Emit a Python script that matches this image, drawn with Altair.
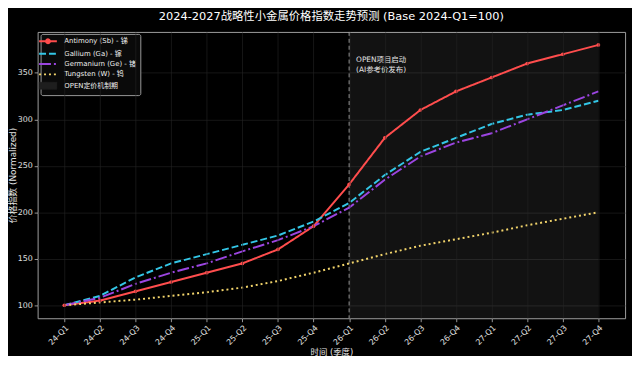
import altair as alt
import pandas as pd

quarters = ["24-Q1", "24-Q2", "24-Q3", "24-Q4", "25-Q1", "25-Q2", "25-Q3", "25-Q4",
            "26-Q1", "26-Q2", "26-Q3", "26-Q4", "27-Q1", "27-Q2", "27-Q3", "27-Q4"]
antimony = [100, 105, 115, 125, 135, 145, 160, 185, 230, 280, 310, 330, 345, 360, 370, 380]
gallium = [100, 110, 130, 145, 155, 165, 175, 190, 210, 240, 265, 280, 295, 305, 310, 320]
germanium = [100, 108, 123, 135, 145, 158, 170, 185, 205, 235, 260, 275, 285, 300, 315, 330]
tungsten = [100, 103, 106, 110, 114, 119, 126, 135, 145, 155, 164, 171, 178, 186, 193, 200]
series_names = ["Antimony (Sb) - 锑", "Gallium (Ga) - 镓", "Germanium (Ge) - 锗", "Tungsten (W) - 钨"]
span_label = "OPEN定价机制期"
span_start = "26-Q1"
span_end = "27-Q4"
note_lines = ["OPEN项目启动", "(AI参考价发布)"]
y_ticks = [100, 150, 200, 250, 300, 350]
title_text = "2024-2027战略性小金属价格指数走势预测 (Base 2024-Q1=100)"

colors = ["#ff4d4d", "#33c6e6", "#9b45e0", "#f2d46b", "#222222"]
dashes = [[1, 0], [7, 3], [12, 3, 2, 3], [2, 3], [1, 0]]
domain_all = series_names + [span_label]

rows = []
for name, vals in zip(series_names, [antimony, gallium, germanium, tungsten]):
    for i, (q, v) in enumerate(zip(quarters, vals)):
        rows.append({"quarter": q, "idx": i, "value": v, "series": name})
df = pd.DataFrame(rows)

FONT = "DejaVu Sans, Noto Sans CJK SC, sans-serif"

xscale = alt.Scale(domain=quarters, type="point", padding=0.75)
yscale = alt.Scale(domain=[86, 394], nice=False, zero=False)

xaxis = alt.Axis(title="时间 (季度)", labelAngle=-45, labelAlign="right", labelBaseline="top",
                 labelPadding=2, labelFontSize=8, titleFontSize=8.5, titleY=34,
                 titleBaseline="middle", grid=True)
yaxis = alt.Axis(title="价格指数 (Normalized)", values=y_ticks, labelFontSize=8, titleFontSize=9,
                 titleX=-25, titleY=145, titleAngle=-90, titleBaseline="middle",
                 titleAlign="center", labelPadding=2, grid=True)

is_span = "datum.value === '" + span_label + "'"
is_sb = "datum.value === '" + series_names[0] + "'"
legend = alt.Legend(
    title=None, orient="none", legendX=3, legendY=2,
    symbolType=alt.ExprRef(is_span + " ? 'M-1,-0.4H1V0.4H-1Z' : (" + is_sb +
                           " ? 'M-1,0H1M0.22,0A0.22,0.22,0,1,1,-0.22,0A0.22,0.22,0,1,1,0.22,0' : 'stroke')"),
    symbolFillColor=alt.ExprRef(is_span + " ? '#1e1e1e' : (" + is_sb + " ? '" + colors[0] + "' : 'transparent')"),
    symbolStrokeWidth=alt.ExprRef(is_span + " ? 0.5 : 2"),
    symbolSize=324, labelFontSize=7, labelColor="#f0f0f0",
    fillColor="#0a0a0a", strokeColor="#999999", padding=4, rowPadding=1.5,
    cornerRadius=2, labelOffset=13, labelFont=FONT)

span = alt.Chart(pd.DataFrame({"quarter": [span_start], "quarter_end": [span_end]})).mark_rect(
    color="#ffffff", opacity=0.07
).encode(
    x=alt.X("quarter:O", scale=xscale, sort=quarters, axis=xaxis),
    x2="quarter_end:O",
)

vline = alt.Chart(pd.DataFrame({"quarter": [span_start]})).mark_rule(
    color="#aaaaaa", strokeDash=[4, 3], strokeWidth=1
).encode(x=alt.X("quarter:O", scale=xscale, sort=quarters, axis=xaxis))

lines = alt.Chart(df).mark_line(strokeWidth=2).encode(
    x=alt.X("quarter:O", scale=xscale, sort=quarters, axis=xaxis),
    y=alt.Y("value:Q", scale=yscale, axis=yaxis),
    color=alt.Color("series:N", scale=alt.Scale(domain=domain_all, range=colors), legend=legend),
    strokeDash=alt.StrokeDash("series:N", scale=alt.Scale(domain=domain_all, range=dashes), legend=legend),
    order=alt.Order("idx:Q"),
)

pts = alt.Chart(df).mark_point(filled=True, size=14, color=colors[0], opacity=1).encode(
    x=alt.X("quarter:O", scale=xscale, sort=quarters, axis=xaxis),
    y=alt.Y("value:Q", scale=yscale, axis=yaxis),
).transform_filter(alt.datum.series == series_names[0])

note = alt.Chart(pd.DataFrame({"quarter": [span_start]})).mark_text(
    text=note_lines, align="left", baseline="top", dx=7, fontSize=7.5, color="#e6e6e6",
    lineHeight=10, font=FONT
).encode(
    x=alt.X("quarter:O", scale=xscale, sort=quarters, axis=xaxis),
    y=alt.datum(368),
)

chart = alt.layer(span, vline, lines, pts, note).properties(
    width=595, height=290,
    title=alt.TitleParams(title_text, fontSize=11.5, color="#ffffff", anchor="middle",
                          offset=9, font=FONT, fontWeight="normal"),
    autosize=alt.AutoSizeParams(type="none"),
    padding={"left": 30, "top": 22, "right": 7, "bottom": 36},
    background="#000000",
).configure_view(
    stroke="#a0a0a0", strokeWidth=1, fill="#000000"
).configure_axis(
    domain=False, tickColor="#bbbbbb", tickSize=3.5, tickWidth=0.8,
    labelColor="#e0e0e0", titleColor="#e6e6e6", labelFont=FONT, titleFont=FONT,
    titleFontWeight="normal", gridColor="#262626", gridWidth=0.6,
)

chart.save("out.html", embed_options={"renderer": "svg", "actions": False})
